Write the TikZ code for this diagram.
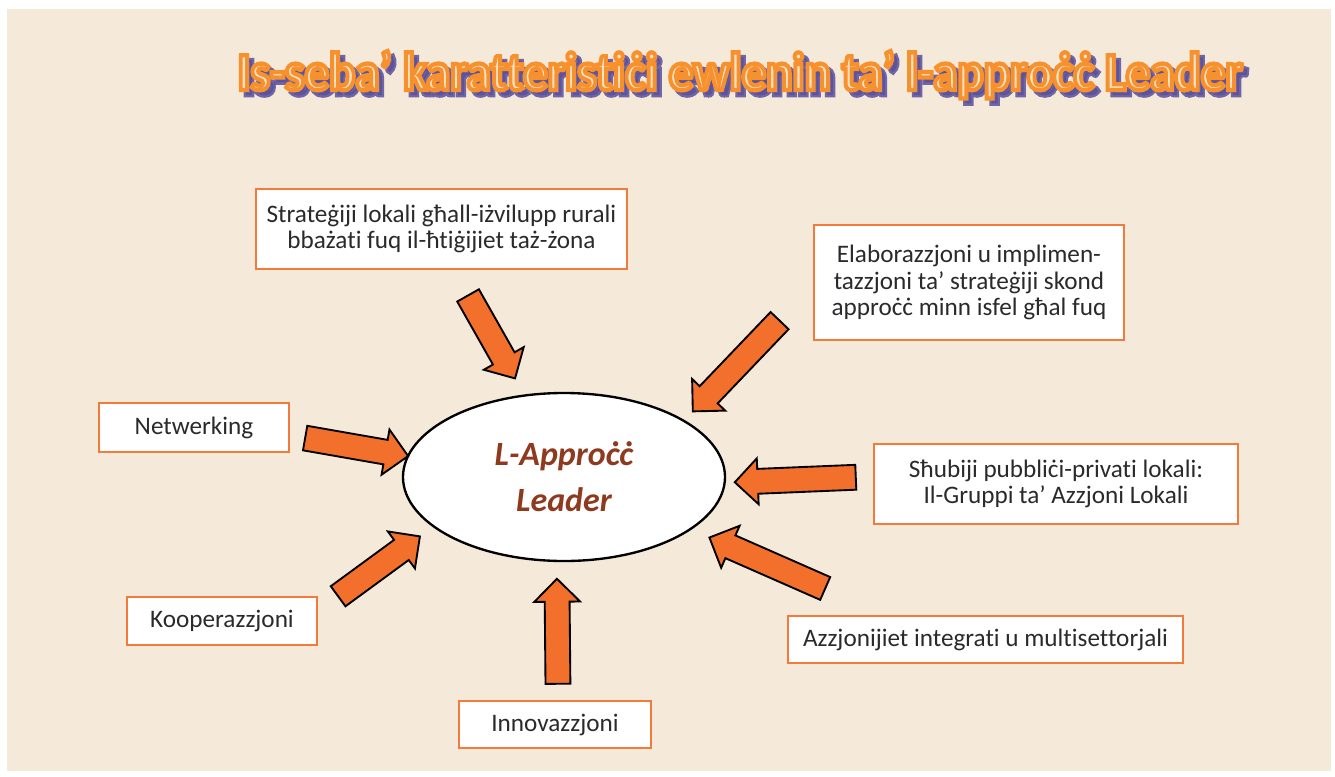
\documentclass[tikz,border=0pt]{standalone}
\usepackage{fontspec}
\setmainfont{Carlito}[Ligatures=NoCommon]
\usepackage{xcolor}
\usetikzlibrary{shapes,shapes.geometric,shapes.arrows}
\usetikzlibrary{calc}

\definecolor{bgbeige}{HTML}{F5E9D9}
\definecolor{boxorange}{HTML}{F37A3A}
\definecolor{arroworange}{HTML}{F2702C}
\definecolor{textgray}{HTML}{2B2A2A}
\definecolor{leadred}{HTML}{8E3A1E}
\definecolor{titlefill}{HTML}{FFE2C4}
\definecolor{titleshadow}{HTML}{5A4F9C}

% outlined title: fill colour from \color, stroke colour given as rgb
\newcommand{\titletext}[2]{\resizebox{30.15cm}{1.17cm}{\special{pdf:literal direct 2 Tr #2 w #1 RG}%
  \bfseries Is-seba’ karatteristiċi ewlenin ta’ l-approċċ Leader\special{pdf:literal direct 0 Tr}}}

\tikzset{
  box/.style={draw=boxorange,line width=1.6pt,fill=white,text=textgray,align=center,inner sep=0pt,
    font=\fontsize{21.5}{22.8}\selectfont},
  bigarrow/.style={single arrow,draw=black,fill=arroworange,line width=1.6pt,inner sep=0pt,
    inner ysep=0.345cm,single arrow head extend=0.315cm,line join=miter}
}
\newcommand{\blockarrow}[2]{%
  \path let \p1=($(#2)-(#1)$), \n1={atan2(\y1,\x1)}, \n2={veclen(\x1,\y1)} in
    node[bigarrow,rotate=\n1,minimum height=\n2] at ($(#1)!0.5!(#2)$) {};}

\begin{document}
\begin{tikzpicture}[x=0.03cm,y=-0.03cm]
\useasboundingbox (0,0) rectangle (1335,776);
\fill[bgbeige] (7,9) rectangle (1331,771);

% title
\node[anchor=base,opacity=0.85] (shadow) at (745,95) {\color{titleshadow}\titletext{0.35 0.31 0.61}{0.9}};
\node[anchor=base] (title) at (740,90) {\color{titlefill}\titletext{0.97 0.57 0.18}{0.8}};

% centre
\node[draw=black,line width=2pt,fill=white,ellipse,minimum width=9.66cm,minimum height=5.04cm,
  inner sep=0pt,align=center,text=leadred,font=\fontsize{29}{39}\selectfont\bfseries\itshape] (leader) at (564,477)
  {L-Approċċ\\Leader};

% boxes
\node[box,minimum width=11.13cm,minimum height=2.4cm] (strat) at (441.5,229)
  {Strateġiji lokali għall-iżvilupp rurali\\bbażati fuq il-ħtiġijiet taż-żona};
\node[box,minimum width=9.3cm,minimum height=3.45cm] (elab) at (969,282.5)
  {Elaborazzjoni u implimen-\\tazzjoni ta’ strateġiji skond\\approċċ minn isfel għal fuq};
\node[box,minimum width=10.92cm,minimum height=2.4cm] (shub) at (1056,484)
  {Sħubiji pubbliċi-privati lokali:\\Il-Gruppi ta’ Azzjoni Lokali};
\node[box,minimum width=11.85cm,minimum height=1.41cm] (azz) at (985.5,639.5)
  {Azzjonijiet integrati u multisettorjali};
\node[box,minimum width=5.7cm,minimum height=1.47cm] (net) at (194,427.5) {Netwerking};
\node[box,minimum width=5.7cm,minimum height=1.44cm] (koop) at (222,621) {Kooperazzjoni};
\node[box,minimum width=5.76cm,minimum height=1.41cm] (innov) at (555,724.5) {Innovazzjoni};

% arrow ends
\coordinate (stratT) at (465,290);  \coordinate (stratH) at (512,373);
\coordinate (elabT) at (784,316);   \coordinate (elabH) at (697,407);
\coordinate (shubT) at (862,477);   \coordinate (shubH) at (741,482);
\coordinate (azzT) at (831,591);    \coordinate (azzH) at (715,540);
\coordinate (innovT) at (558,690);  \coordinate (innovH) at (557,585);
\coordinate (koopT) at (333,600);   \coordinate (koopH) at (415,540);
\coordinate (netT) at (299,437);    \coordinate (netH) at (402,455);

\blockarrow{stratT}{stratH}
\blockarrow{elabT}{elabH}
\blockarrow{shubT}{shubH}
\blockarrow{azzT}{azzH}
\blockarrow{innovT}{innovH}
\blockarrow{koopT}{koopH}
\blockarrow{netT}{netH}
\end{tikzpicture}
\end{document}
